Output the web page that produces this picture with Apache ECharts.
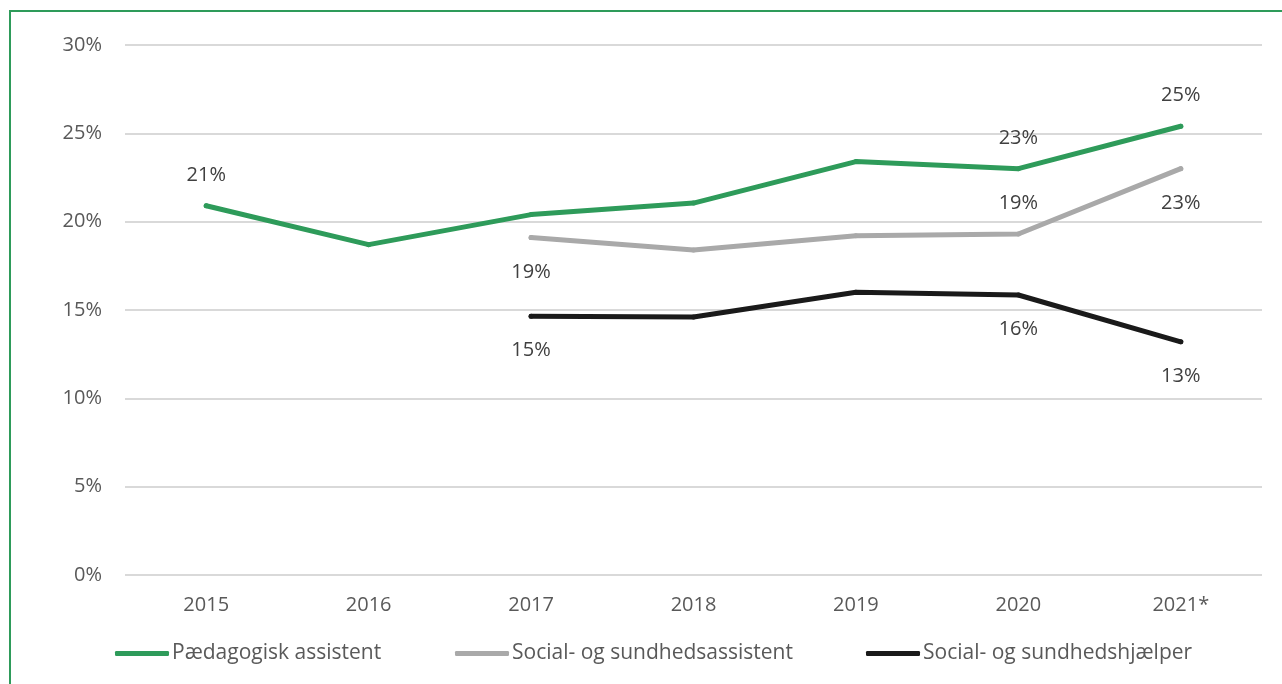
<!DOCTYPE html>
<html>
<head>
<meta charset="utf-8">
<script src="https://cdn.jsdelivr.net/npm/echarts@6/dist/echarts.min.js"></script>
<style>
html,body{margin:0;padding:0;background:#fff;}
#frame{position:absolute;left:9px;top:10px;width:1300px;height:700px;border-left:2px solid #2e9b5a;border-top:2px solid #2e9b5a;box-sizing:border-box;}
#chart{position:absolute;left:0;top:0;width:1282px;height:684px;}
</style>
</head>
<body>
<div id="frame"></div>
<div id="chart"></div>
<script>
const categories = ['2015','2016','2017','2018','2019','2020','2021*'];
const yTicks = [0,5,10,15,20,25,30];
const seriesNames = ['Pædagogisk assistent','Social- og sundhedsassistent','Social- og sundhedshjælper'];
const paedagogisk = [20.9, 18.7, 20.4, 21.05, 23.4, 23.0, 25.4];
const sosuAssistent = [null, null, 19.1, 18.4, 19.2, 19.3, 23.0];
const sosuHjaelper = [null, null, 14.65, 14.6, 16.0, 15.85, 13.2];

// which points carry a value label, and where
const labelSpec = [
  {0:'top', 5:'top', 6:'top'},
  {2:'bottom', 5:'top', 6:'bottom'},
  {2:'bottom', 5:'bottom', 6:'bottom'}
];
const colors = ['#2e9b5a', '#a9a9a9', '#1a1a1a'];
const FONT = 'Open Sans';

function buildData(values, spec){
  return values.map((v,i)=>{
    const pos = spec[i];
    if (v === null) return null;
    if (!pos) return v;
    return {value:v, label:{show:true, position:pos, distance: pos==='top'?18:22}};
  });
}

const seriesValues = [paedagogisk, sosuAssistent, sosuHjaelper];
const chart = echarts.init(document.getElementById('chart'), null, {renderer:'canvas'});
const legendLefts = [115, 455, 866];
chart.setOption({
  animation:false,
  color: colors,
  grid:{left:125, right:20, top:45, bottom:109},
  legend: seriesNames.map((n,i)=>({
    data:[n], left:legendLefts[i], top:643, padding:0,
    icon:'roundRect',
    itemWidth:54, itemHeight:5, itemGap:0,
    itemStyle:{color:colors[i], opacity:1},
    textStyle:{fontFamily:FONT, fontSize:21, color:'#595959', padding:[0,0,0,-2]}
  })),
  xAxis:{
    type:'category', data:categories, boundaryGap:true,
    axisLine:{show:false}, axisTick:{show:false},
    axisLabel:{fontFamily:FONT, fontSize:20, color:'#595959', margin:20}
  },
  yAxis:{
    type:'value', min:0, max:30, interval:5,
    axisLabel:{fontFamily:FONT, fontSize:20, color:'#595959', margin:23, formatter: v=>v+'%'},
    splitLine:{lineStyle:{color:'#d9d9d9', width:2}},
    axisLine:{show:false}, axisTick:{show:false}
  },
  series: seriesValues.map((vals,i)=>({
    name: seriesNames[i], type:'line', data: buildData(vals, labelSpec[i]),
    symbol:'circle', symbolSize:5, showSymbol:true,
    itemStyle:{color:colors[i]},
    connectNulls:false,
    lineStyle:{width:5, color:colors[i], cap:'round', join:'round'},
    label:{show:false, fontFamily:FONT, fontSize:20, color:'#404040',
      formatter: p=>Math.round(p.value)+'%'},
    emphasis:{disabled:true}
  }))
});
</script>
</body>
</html>
